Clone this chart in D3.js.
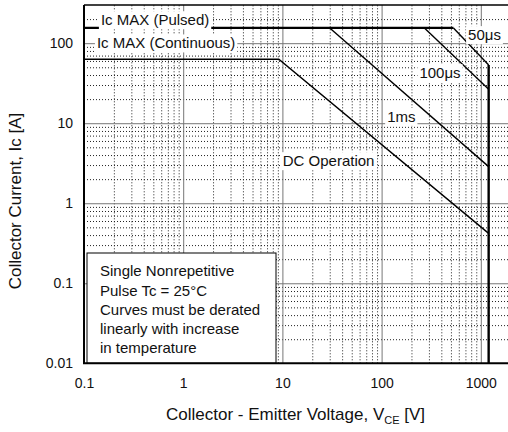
<!DOCTYPE html>
<html>
<head>
<meta charset="utf-8">
<script src="https://cdn.jsdelivr.net/npm/d3@7"></script>
<style>
  html, body { margin: 0; padding: 0; background: #fff; }
  svg { display: block; font-family: "Liberation Sans", Arial, Helvetica, sans-serif; }
</style>
</head>
<body>
<svg id="chart" width="508" height="432"></svg>
<script>
// Safe operating area: collector current vs collector-emitter voltage (log-log)
const xTicks = [0.1, 1, 10, 100, 1000];
const xTickLabels = ["0.1", "1", "10", "100", "1000"];
const yTicks = [0.01, 0.1, 1, 10, 100];
const yTickLabels = ["0.01", "0.1", "1", "10", "100"];

// Boundary curves: [VCE (V), Ic (A)]
const pulsedMax = [[0.1, 155], [530, 155]];
const dcOperation = [[0.1, 63], [9.2, 63], [1200, 0.42]];
const pulse1ms = [[30, 155], [1200, 2.87]];
const pulse100us = [[270, 155], [1200, 26.6]];
const pulse50us = [[530, 155], [1200, 53.5]];
const vceMax = [[1200, 53.5], [1200, 0.01]];

const labelTexts = ["Ic MAX (Pulsed)", "Ic MAX (Continuous)", "50μs", "100μs", "1ms", "DC Operation"];
const noteLines = ["Single Nonrepetitive", "Pulse Tc = 25°C", "Curves must be derated", "linearly with increase", "in temperature"];

const svg = d3.select("#chart");
const plotLeft = 84, plotTop = 5, plotBottom = 363.3, plotRight = 508;
const x = d3.scaleLog().domain([0.1, 2000]).range([plotLeft, plotLeft + 99.2 * Math.log10(20000)]);
const y = d3.scaleLog().domain([0.01, 300]).range([plotBottom, plotTop]);

svg.append("defs").append("clipPath").attr("id", "plotClip")
  .append("rect").attr("x", plotLeft).attr("y", plotTop)
  .attr("width", plotRight - plotLeft).attr("height", plotBottom - plotTop);

const plot = svg.append("g").attr("clip-path", "url(#plotClip)");

// minor grid values
const minorX = [], minorY = [];
for (let d = -1; d <= 3; d++) for (let k = 2; k <= 9; k++) { const v = k * Math.pow(10, d); if (v < 2000) minorX.push(v); }
for (let d = -2; d <= 2; d++) for (let k = 2; k <= 9; k++) { const v = k * Math.pow(10, d); if (v < 300) minorY.push(v); }

function styleGrid(g, color, dash) {
  g.select(".domain").remove();
  g.selectAll("line").attr("stroke", color).attr("stroke-width", 1)
    .attr("stroke-dasharray", dash);
}

plot.append("g").attr("transform", `translate(0,${plotBottom})`)
  .call(d3.axisBottom(x).tickValues(minorX).tickSize(-(plotBottom - plotTop)).tickFormat(""))
  .call(g => styleGrid(g, "#222", "1,2"));
plot.append("g").attr("transform", `translate(${plotLeft},0)`)
  .call(d3.axisLeft(y).tickValues(minorY).tickSize(-(plotRight - plotLeft)).tickFormat(""))
  .call(g => styleGrid(g, "#222", "1,2"));
plot.append("g").attr("transform", `translate(0,${plotBottom})`)
  .call(d3.axisBottom(x).tickValues(xTicks.slice(1)).tickSize(-(plotBottom - plotTop)).tickFormat(""))
  .call(g => styleGrid(g, "#777", null));
plot.append("g").attr("transform", `translate(${plotLeft},0)`)
  .call(d3.axisLeft(y).tickValues(yTicks.slice(1)).tickSize(-(plotRight - plotLeft)).tickFormat(""))
  .call(g => styleGrid(g, "#777", null));

// curves
const line = d3.line().x(d => x(d[0])).y(d => y(d[1]));
const curves = [
  { data: pulsedMax, w: 2.2 },
  { data: dcOperation, w: 1.4 },
  { data: pulse1ms, w: 1.4 },
  { data: pulse100us, w: 1.4 },
  { data: pulse50us, w: 1.4 },
  { data: vceMax, w: 2.4 }
];
plot.selectAll("path.curve").data(curves).enter().append("path")
  .attr("class", "curve")
  .attr("d", d => line(d.data))
  .attr("fill", "none").attr("stroke", "#000")
  .attr("stroke-width", d => d.w)
  .attr("stroke-linejoin", "miter");

// curve labels with white backing
const labelPos = [
  { t: labelTexts[0], vx: 0.148, vy: 195, anchor: "start" },
  { t: labelTexts[1], vx: 0.135, vy: 100, anchor: "start" },
  { t: labelTexts[2], vx: 1090, vy: 127, anchor: "middle" },
  { t: labelTexts[3], vx: 388, vy: 42.5, anchor: "middle" },
  { t: labelTexts[4], vx: 158, vy: 12.1, anchor: "middle" },
  { t: labelTexts[5], vx: 29.2, vy: 3.38, anchor: "middle" }
];
const lab = plot.append("g").attr("font-size", 15).attr("fill", "#111");
labelPos.forEach(p => {
  const g = lab.append("g");
  const txt = g.append("text")
    .attr("x", x(p.vx)).attr("y", y(p.vy))
    .attr("dy", "0.35em")
    .attr("text-anchor", p.anchor)
    .text(p.t);
  const bb = txt.node().getBBox();
  g.insert("rect", "text")
    .attr("x", bb.x - 2).attr("y", bb.y)
    .attr("width", bb.width + 4).attr("height", bb.height + 1)
    .attr("fill", "#fff");
});

// note box
const note = plot.append("g");
note.append("rect").attr("x", 87).attr("y", 253).attr("width", 189).attr("height", plotBottom - 253)
  .attr("fill", "#fff").attr("stroke", "#000").attr("stroke-width", 1);
note.selectAll("text").data(noteLines).enter().append("text")
  .attr("x", 100).attr("y", (d, i) => 271 + i * 19.3).attr("dy", "0.35em")
  .attr("font-size", 15).attr("fill", "#111")
  .text(d => d);

// frame
svg.append("line").attr("x1", plotLeft).attr("x2", plotRight).attr("y1", plotTop).attr("y2", plotTop)
  .attr("stroke", "#000").attr("stroke-width", 1.5);
svg.append("line").attr("x1", plotLeft).attr("x2", plotLeft).attr("y1", plotTop).attr("y2", plotBottom)
  .attr("stroke", "#000").attr("stroke-width", 2);
svg.append("line").attr("x1", plotLeft - 1).attr("x2", plotRight).attr("y1", plotBottom).attr("y2", plotBottom)
  .attr("stroke", "#000").attr("stroke-width", 2);

// tick labels
const xAxis = svg.append("g").attr("transform", `translate(0,${plotBottom})`)
  .call(d3.axisBottom(x).tickValues(xTicks).tickSize(0).tickPadding(15)
    .tickFormat((d, i) => xTickLabels[i]));
xAxis.select(".domain").remove();
xAxis.selectAll("text").attr("font-size", 14).attr("fill", "#111")
  .attr("font-family", "Liberation Sans, Arial, sans-serif");

const yAxis = svg.append("g").attr("transform", `translate(${plotLeft},0)`)
  .call(d3.axisLeft(y).tickValues(yTicks).tickSize(0).tickPadding(11)
    .tickFormat((d, i) => yTickLabels[i]));
yAxis.select(".domain").remove();
yAxis.selectAll("text").attr("font-size", 14).attr("fill", "#111")
  .attr("font-family", "Liberation Sans, Arial, sans-serif");

// axis titles
const xt = svg.append("text").attr("x", 295.5).attr("y", 420)
  .attr("text-anchor", "middle").attr("font-size", 17).attr("fill", "#111");
xt.append("tspan").text("Collector - Emitter Voltage, V");
xt.append("tspan").attr("font-size", 11).attr("dy", 4).text("CE");
xt.append("tspan").attr("dy", -4).text(" [V]");

svg.append("text")
  .attr("transform", "translate(21,201) rotate(-90)")
  .attr("text-anchor", "middle").attr("font-size", 17).attr("fill", "#111")
  .text("Collector Current, Ic [A]");
</script>
</body>
</html>
